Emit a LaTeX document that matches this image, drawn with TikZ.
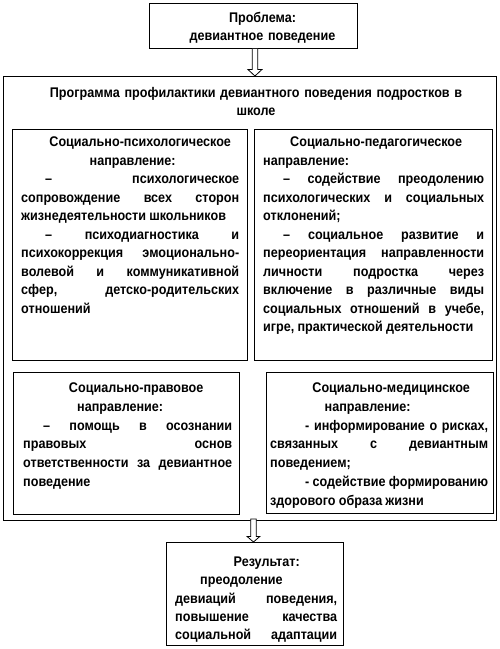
\documentclass[tikz,border=0pt]{standalone}
\usepackage{fontspec}
\setmainfont{Liberation Sans}[FakeStretch=0.9]
\usetikzlibrary{calc}
\newcommand\setpar[1]{\hyphenpenalty=10000\relax\exhyphenpenalty=10000\relax\rightskip=0pt\relax\leftskip=0pt\relax\parfillskip=0pt plus 1fil\relax\baselineskip=#1\relax}
\newcommand\ctrline[2]{\leavevmode\hbox to #1{}\hbox to 0pt{\hss#2\hss}\par}
\newcommand\ind[1]{\leavevmode\hbox to #1{}}
\newcommand\lbr{\penalty-10000\relax}
\newcommand\nbs{\nobreak\hskip 3.2pt plus 100pt minus 1.5pt\relax}
\begin{document}
\begin{tikzpicture}[x=1pt,y=-1pt,
  frame/.style={draw=black, line width=0.9pt, inner sep=0pt, anchor=north west},
  txt/.style={inner sep=0pt, anchor=base west,
    font=\fontsize{14}{18.5}\selectfont\bfseries},
  ctxt/.style={inner sep=0pt, anchor=base, align=center,
    font=\fontsize{14}{18}\selectfont\bfseries},
  blockarrow/.style={draw=black, line width=0.8pt, fill=white, line join=miter}]
\fill[white] (0,0) rectangle (499,649);
\useasboundingbox (0,0) rectangle (499,649);

% frames
\node[frame, minimum width=208pt, minimum height=45pt] (prob) at (149,3) {};
\node[frame, minimum width=493pt, minimum height=444pt] (outer) at (3,76) {};
\node[frame, minimum width=235pt, minimum height=231pt] (b1) at (12,129) {};
\node[frame, minimum width=238pt, minimum height=231pt] (b2) at (254,129) {};
\node[frame, minimum width=226pt, minimum height=142pt] (b3) at (13,372) {};
\node[frame, minimum width=227pt, minimum height=141pt] (b4) at (266,372) {};
\node[frame, minimum width=177pt, minimum height=103pt] (res) at (166,542) {};

% texts
\node[ctxt, text width=200pt] (t0) at (262.5,22.5) {Проблема:\\девиантное поведение};
\node[ctxt, text width=470pt] (tt) at (256,97.5) {Программа профилактики девиантного поведения подростков в\\школе};

\node[txt, text width=218pt] (t1) at (21,146.5) {\setpar{18.5pt}\ctrline{119pt}{Социально-психологическое}\ctrline{111.5pt}{направление:}\ind{24pt}–\nbs психологическое\lbr сопровождение\nbs всех\nbs сторон\lbr жизнедеятельности\nbs школьников\par\ind{24pt}–\nbs психодиагностика\nbs и\lbr психокоррекция\nbs эмоционально-\lbr волевой\nbs и\nbs коммуникативной\lbr сфер,\nbs детско-родительских\lbr отношений\par};

\node[txt, text width=221pt] (t2) at (263,146.5) {\setpar{18.5pt}\ctrline{113pt}{Социально-педагогическое}направление:\par\ind{20pt}–\nbs содействие\nbs преодолению\lbr психологических\nbs и\nbs социальных\lbr отклонений;\par\ind{20pt}–\nbs социальное\nbs развитие\nbs и\lbr переориентация\nbs направленности\lbr личности\nbs подростка\nbs через\lbr включение\nbs в\nbs различные\nbs виды\lbr социальных\nbs отношений\nbs в\nbs учебе,\lbr игре,\nbs практической\nbs деятельности\par};

\node[txt, text width=209pt] (t3) at (23,392.5) {\setpar{18.8pt}\ctrline{113pt}{Социально-правовое}\ctrline{97pt}{направление:}\ind{20pt}–\nbs помощь\nbs в\nbs осознании\lbr правовых\nbs основ\lbr ответственности\nbs за\nbs девиантное\lbr поведение\par};

\node[txt, text width=218pt] (t4) at (270,392.5) {\setpar{18.8pt}\ctrline{121pt}{Социально-медицинское}\ctrline{97.5pt}{направление:}\ind{35pt}-\nbs информирование\nbs о\nbs рисках,\lbr связанных\nbs с\nbs девиантным\lbr поведением;\par\ind{35pt}-\nbs содействие\nbs формированию\lbr здорового\nbs образа\nbs жизни\par};

\node[txt, text width=162pt] (tr) at (175,566.5) {\setpar{18.3pt}\ctrline{91.5pt}{Результат:}\ind{25pt}преодоление\par девиаций\nbs поведения,\lbr повышение\nbs качества\lbr социальной\hfill адаптации\par};

% arrows
\coordinate (a1s) at ($(prob.south)+(1.5,0)$);
\coordinate (a1t) at (a1s |- outer.north);
\draw[blockarrow] ($(a1s)+(-2.8,0)$) -- ($(a1t)+(-2.8,-6.5)$) -- ($(a1t)+(-7,-6.5)$) -- (a1t) -- ($(a1t)+(7,-6.5)$) -- ($(a1t)+(2.8,-6.5)$) -- ($(a1s)+(2.8,0)$);

\coordinate (a2s) at ($(outer.south)+(3.5,-2)$);
\coordinate (a2t) at (a2s |- res.north);
\draw[blockarrow] ($(a2s)+(-2.8,0)$) -- ($(a2t)+(-2.8,-5.5)$) -- ($(a2t)+(-6.3,-5.5)$) -- (a2t) -- ($(a2t)+(6.3,-5.5)$) -- ($(a2t)+(2.8,-5.5)$) -- ($(a2s)+(2.8,0)$) -- cycle;
\end{tikzpicture}
\end{document}
